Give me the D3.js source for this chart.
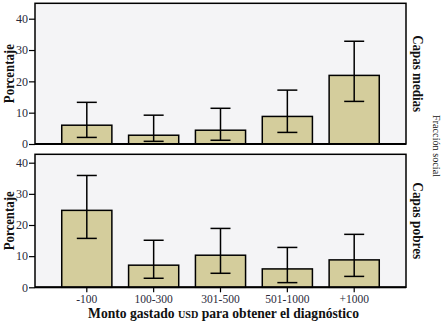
<!DOCTYPE html>
<html>
<head>
<meta charset="utf-8">
<script src="https://cdn.jsdelivr.net/npm/d3@7"></script>
<style>
html,body{margin:0;padding:0;background:#fff;}
svg{display:block;}
</style>
</head>
<body>
<svg id="chart" width="445" height="325"></svg>
<script>
const categories = ["-100", "100-300", "301-500", "501-1000", "+1000"];
const panelNames = ["Capas medias", "Capas pobres"];
const mediasValues = [6.0, 2.8, 4.4, 8.8, 21.9];
const mediasLow = [2.1, 0.85, 1.2, 3.7, 13.6];
const mediasHigh = [13.3, 9.2, 11.4, 17.2, 32.8];
const pobresValues = [24.7, 7.1, 10.3, 5.9, 8.8];
const pobresLow = [15.7, 2.9, 4.5, 1.5, 3.5];
const pobresHigh = [35.9, 15.1, 18.9, 12.8, 17.0];
const yTicks = [0, 10, 20, 30, 40];

const svg = d3.select("#chart");
const font = "'Liberation Serif', 'DejaVu Serif', serif";
const left = 35, right = 406;

const x = d3.scaleBand().domain(categories).range([left, right])
  .paddingInner(0.25).paddingOuter(0.4);

const panels = [
  {name: panelNames[0], values: mediasValues, low: mediasLow, high: mediasHigh,
   top: 3.3, y0: 144, y40: 18.7},
  {name: panelNames[1], values: pobresValues, low: pobresLow, high: pobresHigh,
   top: 154.3, y0: 287.3, y40: 162.7}
];

panels.forEach((p, pi) => {
  const y = d3.scaleLinear().domain([0, 40]).range([p.y0, p.y40]);
  const g = svg.append("g");
  g.append("rect").attr("x", left).attr("y", p.top)
    .attr("width", right - left).attr("height", p.y0 - p.top)
    .attr("fill", "#f4f4f6").attr("stroke", "#000").attr("stroke-width", 1.5);

  const yAxis = d3.axisLeft(y).tickValues(yTicks).tickSize(6).tickPadding(1).tickFormat(d3.format("d"));
  const ya = g.append("g").attr("transform", `translate(${left},0)`).call(yAxis);
  ya.select(".domain").remove();
  ya.selectAll("line").attr("stroke", "#000").attr("stroke-width", 1.2);
  ya.selectAll("text").attr("font-family", font).attr("font-size", 12).attr("fill", "#2a2a3a");

  const cats = categories.map((c, i) => ({c, v: p.values[i], lo: p.low[i], hi: p.high[i]}));
  g.selectAll(".bar").data(cats).enter().append("rect")
    .attr("x", d => x(d.c)).attr("width", x.bandwidth())
    .attr("y", d => y(d.v)).attr("height", d => y(0) - y(d.v))
    .attr("fill", "#d4cd9c").attr("stroke", "#000").attr("stroke-width", 1.5);

  const cap = 10;
  const eb = g.selectAll(".err").data(cats).enter().append("g");
  eb.append("line").attr("x1", d => x(d.c) + x.bandwidth()/2).attr("x2", d => x(d.c) + x.bandwidth()/2)
    .attr("y1", d => y(d.lo)).attr("y2", d => y(d.hi));
  eb.append("line").attr("x1", d => x(d.c) + x.bandwidth()/2 - cap).attr("x2", d => x(d.c) + x.bandwidth()/2 + cap)
    .attr("y1", d => y(d.hi)).attr("y2", d => y(d.hi));
  eb.append("line").attr("x1", d => x(d.c) + x.bandwidth()/2 - cap).attr("x2", d => x(d.c) + x.bandwidth()/2 + cap)
    .attr("y1", d => y(d.lo)).attr("y2", d => y(d.lo));
  eb.selectAll("line").attr("stroke", "#000").attr("stroke-width", 1.5);

  g.append("line").attr("x1", left).attr("x2", right).attr("y1", p.y0).attr("y2", p.y0)
    .attr("stroke", "#000").attr("stroke-width", 2);

  const mid = (p.top + p.y0) / 2;
  g.append("text").attr("transform", `translate(14,${mid}) rotate(-90)`)
    .attr("text-anchor", "middle").attr("font-family", font).attr("font-weight", "bold")
    .attr("font-size", 15).attr("fill", "#111")
    .attr("textLength", 59).attr("lengthAdjust", "spacingAndGlyphs").text("Porcentaje");
  g.append("text").attr("transform", `translate(412.5,${mid}) rotate(90)`)
    .attr("text-anchor", "middle").attr("font-family", font).attr("font-weight", "bold")
    .attr("font-size", 15).attr("fill", "#111")
    .attr("textLength", 77).attr("lengthAdjust", "spacingAndGlyphs").text(p.name);

  if (pi === 1) {
    const xAxis = d3.axisBottom(x).tickSize(5).tickPadding(3);
    const xa = g.append("g").attr("transform", `translate(0,${p.y0})`).call(xAxis);
    xa.select(".domain").remove();
    xa.selectAll("line").attr("stroke", "#000").attr("stroke-width", 1.2);
    xa.selectAll("text").attr("font-family", font).attr("font-size", 11.5).attr("fill", "#2a2a3a");
  }
});

svg.append("text").attr("transform", "translate(433,146) rotate(90)")
  .attr("text-anchor", "middle").attr("font-family", font).attr("font-size", 10.5)
  .attr("fill", "#111").attr("textLength", 62).attr("lengthAdjust", "spacingAndGlyphs")
  .text("Fracción social");

const title = svg.append("text").attr("x", 223.5).attr("y", 318).attr("text-anchor", "middle")
  .attr("font-family", font).attr("font-weight", "bold").attr("font-size", 13.6).attr("fill", "#111");
title.append("tspan").text("Monto gastado ");
title.append("tspan").attr("font-size", 10.2).text("USD");
title.append("tspan").text(" para obtener el diagnóstico");
</script>
</body>
</html>
